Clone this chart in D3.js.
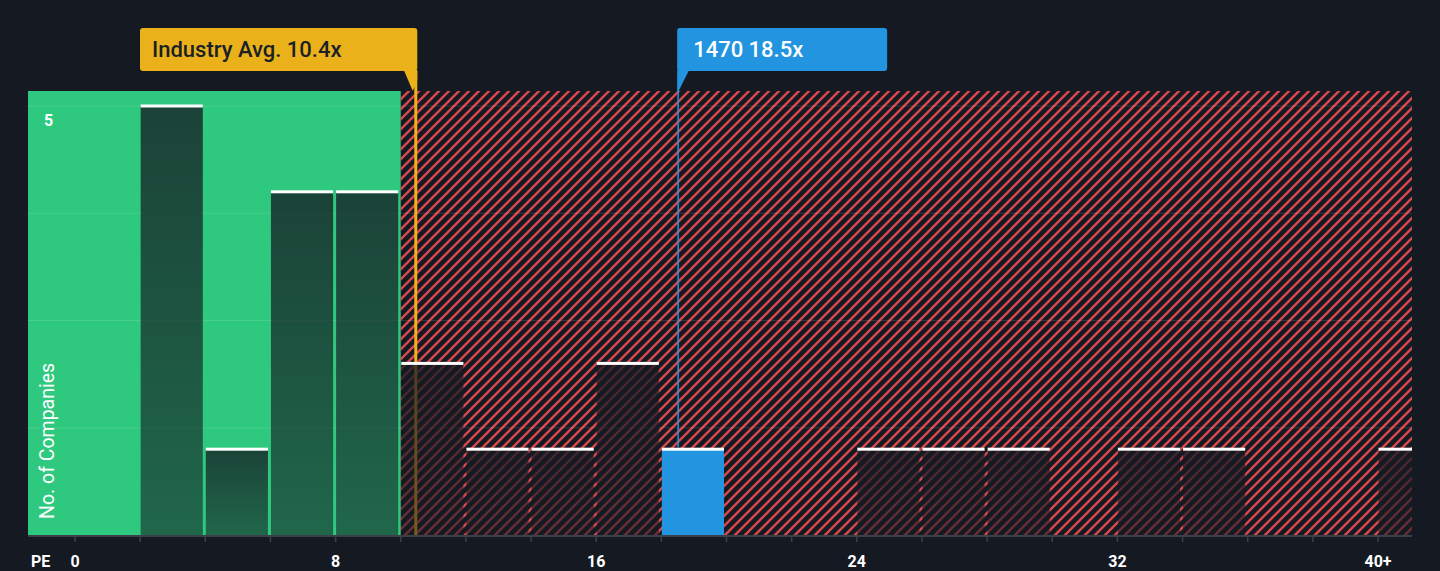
<!DOCTYPE html>
<html>
<head>
<meta charset="utf-8">
<script src="https://cdn.jsdelivr.net/npm/d3@7"></script>
<style>
  html, body { margin: 0; padding: 0; background: #151a22; }
  svg { display: block; font-family: Roboto, "Noto Sans", sans-serif; }
</style>
</head>
<body>
<div id="chart"></div>
<script>
// data
const binStarts = [2, 4, 6, 8, 10, 12, 14, 16, 18, 24, 26, 28, 32, 34, 40];
const binCounts = [5, 1, 4, 4, 2, 1, 1, 2, 1, 1, 1, 1, 1, 1, 1];
const binWidth = 2;
const tickValues = [0, 8, 16, 24, 32, 40];
const tickLabels = ['0', '8', '16', '24', '32', '40+'];
const gridValues = [1.25, 2.5, 3.75, 5];
const industryAvg = 10.4;
const companyPE = 18.5;
const companyName = '1470';
const fairLimit = 10;

const width = 1440, height = 571;
const plotLeft = 28, plotRight = 1412, plotTop = 91, plotBottom = 535;

const x = d3.scaleLinear().domain([0, 40]).range([75, 1378]);
const y = d3.scaleLinear().domain([0, 5]).range([plotBottom, 106]);

const svg = d3.select('#chart')
    .append('svg')
    .attr('width', width)
    .attr('height', height);

const defs = svg.append('defs');

const hatch = defs.append('pattern')
    .attr('id', 'hatch')
    .attr('patternUnits', 'userSpaceOnUse')
    .attr('width', 10)
    .attr('height', 10);
hatch.append('path')
    .attr('d', 'M-3,3 l6,-6 M0,10 l10,-10 M7,13 l6,-6')
    .attr('stroke', '#d9474c')
    .attr('stroke-width', 2.4);

const grad = defs.append('linearGradient')
    .attr('id', 'barShade')
    .attr('x1', 0).attr('y1', 0).attr('x2', 0).attr('y2', 1);
grad.append('stop').attr('offset', '0%').attr('stop-color', '#151a22').attr('stop-opacity', 0.77);
grad.append('stop').attr('offset', '100%').attr('stop-color', '#151a22').attr('stop-opacity', 0.56);

defs.append('clipPath').attr('id', 'plotClip')
    .append('rect')
    .attr('x', plotLeft).attr('y', 0)
    .attr('width', plotRight - plotLeft).attr('height', plotBottom);

// background zones
svg.append('rect')
    .attr('x', plotLeft).attr('y', plotTop)
    .attr('width', x(fairLimit) - plotLeft).attr('height', plotBottom - plotTop)
    .attr('fill', '#2ec97e');

svg.append('rect')
    .attr('x', x(fairLimit)).attr('y', plotTop)
    .attr('width', plotRight - x(fairLimit)).attr('height', plotBottom - plotTop)
    .attr('fill', 'url(#hatch)');

// grid
svg.append('g')
    .selectAll('line')
    .data(gridValues)
    .enter()
    .append('line')
    .attr('x1', plotLeft).attr('x2', plotRight)
    .attr('y1', d => y(d)).attr('y2', d => y(d))
    .attr('stroke', 'rgba(255,255,255,0.12)')
    .attr('stroke-width', 1);

// industry line (sits behind the bars)
const indX = x(industryAvg) + 2;
svg.append('line')
    .attr('x1', indX).attr('x2', indX)
    .attr('y1', 71).attr('y2', plotBottom)
    .attr('stroke', '#f0b21c')
    .attr('stroke-width', 3);

// bars
const bars = binStarts.map((s, i) => ({ start: s, count: binCounts[i] }));
const barG = svg.append('g').attr('clip-path', 'url(#plotClip)');

function isCompanyBin(d) {
    return companyPE >= d.start && companyPE < d.start + binWidth;
}

barG.selectAll('rect.bar')
    .data(bars)
    .enter()
    .append('rect')
    .attr('class', 'bar')
    .attr('x', d => x(d.start) + 0.5)
    .attr('y', d => y(d.count))
    .attr('width', d => x(d.start + binWidth) - x(d.start) - 3)
    .attr('height', d => y(0) - y(d.count))
    .attr('fill', d => isCompanyBin(d) ? '#2394e0' : 'url(#barShade)');

barG.selectAll('rect.cap')
    .data(bars)
    .enter()
    .append('rect')
    .attr('class', 'cap')
    .attr('x', d => x(d.start) + 0.5)
    .attr('y', d => y(d.count) - 1.5)
    .attr('width', d => x(d.start + binWidth) - x(d.start) - 3)
    .attr('height', 3)
    .attr('fill', '#ffffff');

// company line
const companyBar = bars.find(isCompanyBin);
const compX = x(companyPE) + 0.5;
svg.append('line')
    .attr('x1', compX).attr('x2', compX)
    .attr('y1', 71).attr('y2', y(companyBar.count) - 1.5)
    .attr('stroke', '#2394e0')
    .attr('stroke-width', 1.5);

// x axis
svg.append('line')
    .attr('x1', plotLeft).attr('x2', plotRight)
    .attr('y1', plotBottom + 1).attr('y2', plotBottom + 1)
    .attr('stroke', '#3b4048')
    .attr('stroke-width', 2);

svg.append('g')
    .selectAll('line')
    .data(d3.range(0, 42, binWidth))
    .enter()
    .append('line')
    .attr('x1', d => x(d)).attr('x2', d => x(d))
    .attr('y1', plotBottom + 1).attr('y2', plotBottom + 7)
    .attr('stroke', '#3b4048')
    .attr('stroke-width', 1.5);

svg.append('g')
    .selectAll('text')
    .data(tickValues)
    .enter()
    .append('text')
    .attr('x', d => x(d))
    .attr('y', 567)
    .attr('text-anchor', 'middle')
    .attr('fill', '#ffffff')
    .attr('font-size', 16)
    .attr('font-weight', 700)
    .text((d, i) => tickLabels[i]);

svg.append('text')
    .attr('x', 31).attr('y', 567)
    .attr('fill', '#ffffff')
    .attr('font-size', 16)
    .attr('font-weight', 700)
    .text('PE');

// y labels
svg.append('text')
    .attr('x', 44).attr('y', 126)
    .attr('fill', '#ffffff')
    .attr('font-size', 16)
    .attr('font-weight', 700)
    .text('5');

svg.append('text')
    .attr('transform', 'translate(54,519) rotate(-90)')
    .attr('fill', '#ffffff')
    .attr('font-size', 19.5)
    .text('No. of Companies');

// callouts
function callout(lineX, boxX, boxW, fill, textFill, label, pad, tailRight) {
    const g = svg.append('g');
    g.append('rect')
        .attr('x', boxX).attr('y', 28)
        .attr('width', boxW).attr('height', 43)
        .attr('rx', 3)
        .attr('fill', fill);
    let tail;
    if (tailRight) {
        tail = [[lineX - 12, 70], [lineX + 1.5, 70], [lineX + 1.5, 80], [lineX - 3, 91]];
    } else {
        tail = [[lineX - 0.75, 70], [lineX + 11, 70], [lineX + 0.5, 91], [lineX - 0.75, 91]];
    }
    g.append('path')
        .attr('d', d3.line()(tail) + 'Z')
        .attr('fill', fill);
    g.append('text')
        .attr('x', boxX + pad).attr('y', 57)
        .attr('fill', textFill)
        .attr('font-size', 22)
        .attr('font-weight', 500)
        .text(label);
}

callout(indX, 140, indX + 1.5 - 140, '#ebb11b', '#1b1f26', 'Industry Avg. ' + industryAvg + 'x', 12, true);
callout(compX, compX - 1, 210, '#2394e0', '#ffffff', companyName + ' ' + companyPE + 'x', 16, false);
</script>
</body>
</html>
